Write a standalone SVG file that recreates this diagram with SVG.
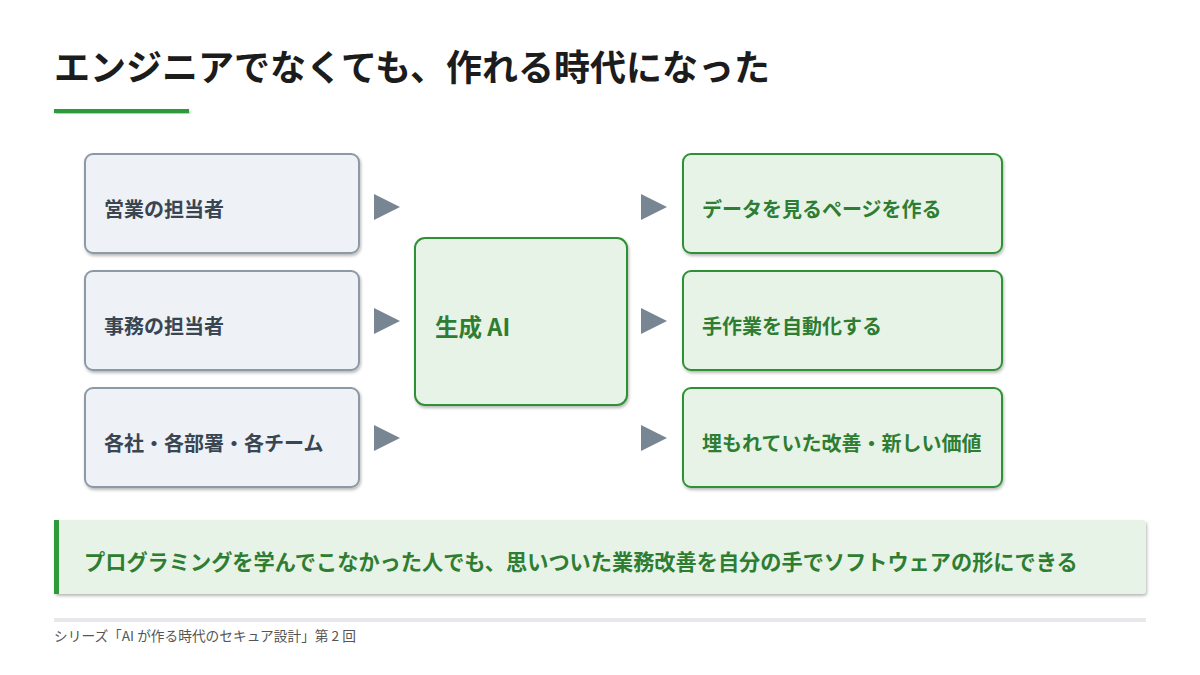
<svg xmlns="http://www.w3.org/2000/svg" width="1200" height="675" viewBox="0 0 1200 675">
<defs>
<filter id="sh" x="-10%" y="-10%" width="120%" height="130%">
<feDropShadow dx="1" dy="2" stdDeviation="1.5" flood-color="#000" flood-opacity="0.28"/>
</filter>
<style>
text{font-family:"Noto Sans CJK JP","Noto Sans",sans-serif;font-weight:700}
.src{fill:#eef2f6;stroke:#8d99a6;stroke-width:2}
.dst{fill:#e7f3e6;stroke:#2e9135;stroke-width:2}
.st{font-size:20px;fill:#3a4552}
.gt{font-size:20px;fill:#2e7d32}
.arr{fill:#788593}
</style>
</defs>
<rect width="1200" height="675" fill="#fff"/>
<g id="title">
<text x="54" y="81" font-size="36" fill="#1c1c1c">エンジニアでなくても、作れる時代になった</text>
<rect x="54" y="109" width="135" height="4" fill="#2e9a3a" filter="url(#sh)"/>
</g>
<g id="src1"><rect class="src" x="85" y="154" width="274" height="99" rx="8" filter="url(#sh)"/><text class="st" x="104" y="217">営業の担当者</text></g>
<g id="src2"><rect class="src" x="85" y="271" width="274" height="99" rx="8" filter="url(#sh)"/><text class="st" x="104" y="334">事務の担当者</text></g>
<g id="src3"><rect class="src" x="85" y="388" width="274" height="99" rx="8" filter="url(#sh)"/><text class="st" x="104" y="451">各社・各部署・各チーム</text></g>
<g id="ai"><rect class="dst" x="415" y="238" width="212" height="167" rx="10" filter="url(#sh)"/><text x="435" y="336" font-size="23.5" fill="#2e7d32">生成 AI</text></g>
<g id="dst1"><rect class="dst" x="683" y="154" width="319" height="99" rx="8" filter="url(#sh)"/><text class="gt" x="702" y="217">データを見るページを作る</text></g>
<g id="dst2"><rect class="dst" x="683" y="271" width="319" height="99" rx="8" filter="url(#sh)"/><text class="gt" x="702" y="334">手作業を自動化する</text></g>
<g id="dst3"><rect class="dst" x="683" y="388" width="319" height="99" rx="8" filter="url(#sh)"/><text class="gt" x="702" y="451">埋もれていた改善・新しい価値</text></g>
<g id="connectors">
<polygon class="arr" points="374,194 400,207 374,220"/>
<polygon class="arr" points="374,308 400,321 374,334"/>
<polygon class="arr" points="374,425 400,438 374,451"/>
<polygon class="arr" points="641,194 667,207 641,220"/>
<polygon class="arr" points="641,308 667,321 641,334"/>
<polygon class="arr" points="641,425 667,438 641,451"/>
</g>
<g id="banner">
<rect x="54" y="520" width="1092" height="74" rx="4" fill="#e7f3e6" filter="url(#sh)"/>
<rect x="54" y="520" width="5" height="74" fill="#2e9a3a"/>
<text x="84" y="570" font-size="21.2" fill="#2e7d32">プログラミングを学んでこなかった人でも、思いついた業務改善を自分の手でソフトウェアの形にできる</text>
</g>
<g id="footer">
<rect x="54" y="618" width="1092" height="4" fill="#e6e8eb"/>
<text x="54" y="641" font-size="13.7" style="font-weight:400" fill="#555">シリーズ「AI が作る時代のセキュア設計」第 2 回</text>
</g>
</svg>
